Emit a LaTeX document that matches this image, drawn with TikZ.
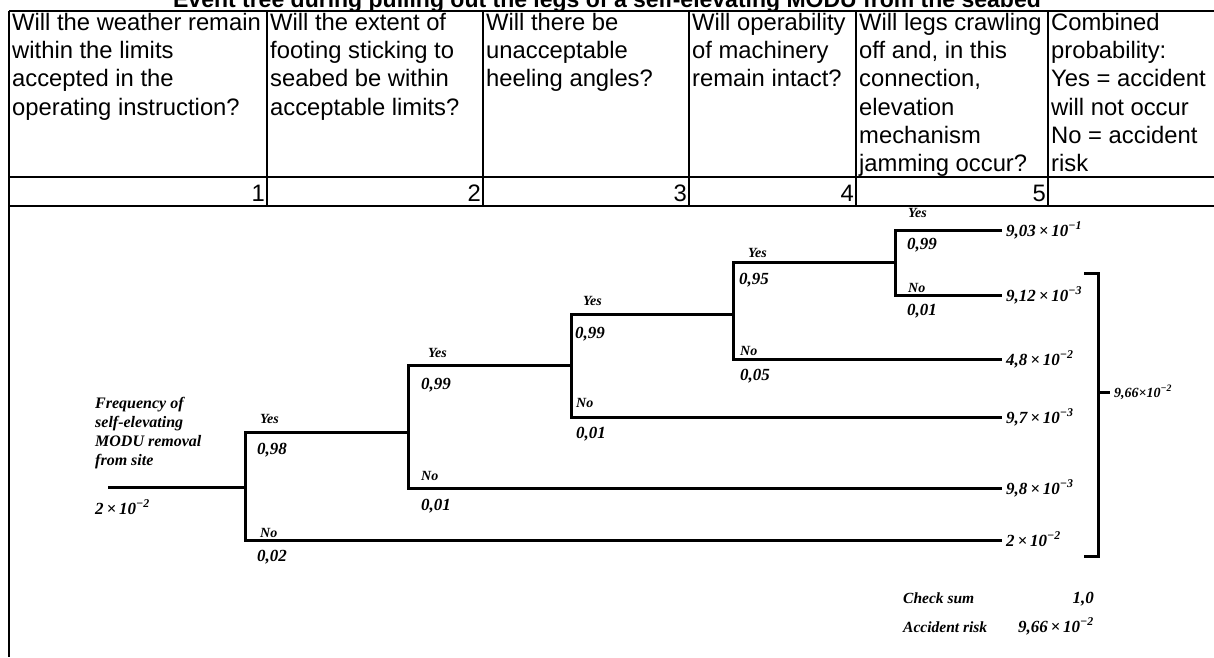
\documentclass[tikz,border=0pt]{standalone}
\usepackage{fontspec}
\setmainfont{Liberation Serif}
\newfontfamily\arialf{Liberation Sans}
\newcommand\hdfont{\arialf\fontsize{23.8}{28.2}\selectfont}
\newcommand\ynfont{\bfseries\itshape\fontsize{14}{16}\selectfont}
\newcommand\prfont{\bfseries\itshape\fontsize{17}{19}\selectfont}
\newcommand\frfont{\bfseries\itshape\fontsize{16}{19}\selectfont}
\newcommand\csfont{\bfseries\itshape\fontsize{15.5}{18}\selectfont}
\newcommand\smfont{\bfseries\itshape\fontsize{14}{16}\selectfont}
\newcommand\tenp[1]{\,×\,10\textsuperscript{−#1}}
\begin{document}
\begin{tikzpicture}[x=1pt,y=-1pt,
  tbl/.style={line width=2pt},
  tree/.style={line width=3pt,line join=miter},
  hd/.style={font=\hdfont,anchor=north west,align=left,inner sep=0pt},
  num/.style={font=\hdfont,anchor=base east,inner sep=0pt},
  yn/.style={font=\ynfont,anchor=base west,inner sep=0pt},
  pr/.style={font=\prfont,anchor=base west,inner sep=0pt},
  res/.style={font=\prfont,anchor=base west,inner sep=0pt},
  cs/.style={font=\csfont,anchor=base west,inner sep=0pt},
  csv/.style={font=\prfont,anchor=base east,inner sep=0pt}]
\useasboundingbox (0,0) rectangle (1214,657);
\fill[white] (0,0) rectangle (1214,657);
% title
\node[font=\arialf\bfseries\fontsize{23}{26}\selectfont,anchor=base,inner sep=0pt] (title) at (607,7)
  {Event tree during pulling out the legs of a self-elevating MODU from the seabed};
% table
\draw[tbl] (9,11) -- (1214,11);
\draw[tbl] (9,177) -- (1214,177);
\draw[tbl] (9,206) -- (1214,206);
\draw[tbl] (9,11) -- (9,657);
\foreach \x in {267,483,689,856,1048} \draw[tbl] (\x,11) -- (\x,206);
\node[hd] (h1) at (12,13) {Will the weather remain\\within the limits\\accepted in the\\operating instruction?};
\node[hd] (h2) at (270,13) {Will the extent of\\footing sticking to\\seabed be within\\acceptable limits?};
\node[hd] (h3) at (486,13) {Will there be\\unacceptable\\heeling angles?};
\node[hd] (h4) at (692,13) {Will operability\\of machinery\\remain intact?};
\node[hd] (h5) at (859,13) {Will legs crawling\\off and, in this\\connection,\\elevation\\mechanism\\jamming occur?};
\node[hd] (h6) at (1051,13) {Combined\\probability:\\Yes = accident\\will not occur\\No = accident\\risk};
\node[num] (n1) at (265,201) {1};
\node[num] (n2) at (481,201) {2};
\node[num] (n3) at (687,201) {3};
\node[num] (n4) at (854,201) {4};
\node[num] (n5) at (1046,201) {5};
% tree coordinates
\coordinate (s0) at (108,487);
\coordinate (b1) at (245,487);
\coordinate (v1t) at (245,432); \coordinate (v1b) at (245,540);
\coordinate (b2) at (408,432);
\coordinate (v2t) at (408,365); \coordinate (v2b) at (408,488);
\coordinate (b3) at (571,365);
\coordinate (v3t) at (571,314); \coordinate (v3b) at (571,417);
\coordinate (b4) at (733,314);
\coordinate (v4t) at (733,262); \coordinate (v4b) at (733,359);
\coordinate (b5) at (895,262);
\coordinate (v5t) at (895,230); \coordinate (v5b) at (895,295);
\coordinate (e1) at (1002,230);
\coordinate (e2) at (1002,295);
\coordinate (e3) at (1002,359);
\coordinate (e4) at (1002,417);
\coordinate (e5) at (1002,488);
\coordinate (e6) at (1002,540);
% tree lines
\draw[tree] (s0) -- (b1);
\draw[tree] (b2) -- (v1t) -- (v1b) -- (e6);
\draw[tree] (b3) -- (v2t) -- (v2b) -- (e5);
\draw[tree] (b4) -- (v3t) -- (v3b) -- (e4);
\draw[tree] (b5) -- (v4t) -- (v4b) -- (e3);
\draw[tree] (e1) -- (v5t) -- (v5b) -- (e2);
% branch labels
\node[yn] (y1) at (260,423) {Yes};  \node[pr] (p1) at (257,454) {0,98};
\node[yn] (no1) at (260,537) {No};  \node[pr] (q1) at (257,561) {0,02};
\node[yn] (y2) at (428,357) {Yes};  \node[pr] (p2) at (421,389) {0,99};
\node[yn] (no2) at (421,480) {No};  \node[pr] (q2) at (421,510) {0,01};
\node[yn] (y3) at (583,305) {Yes};  \node[pr] (p3) at (575,338) {0,99};
\node[yn] (no3) at (576,407) {No};  \node[pr] (q3) at (576,438) {0,01};
\node[yn] (y4) at (748,257) {Yes};  \node[pr] (p4) at (739,284) {0,95};
\node[yn] (no4) at (740,355) {No};  \node[pr] (q4) at (740,380) {0,05};
\node[yn] (y5) at (908,217) {Yes};  \node[pr] (p5) at (907,249) {0,99};
\node[yn] (no5) at (908,292) {No};  \node[pr] (q5) at (907,315) {0,01};
% start labels
\node[font=\frfont,anchor=north west,align=left,inner sep=0pt] (freq) at (95,397)
  {Frequency of\\self-elevating\\MODU removal\\from site};
\node[pr] (f0) at (95,514) {2\tenp{2}};
% results
\node[res] (r1) at (1006,236) {9,03\tenp{1}};
\node[res] (r2) at (1006,301) {9,12\tenp{3}};
\node[res] (r3) at (1006,365) {4,8\tenp{2}};
\node[res] (r4) at (1006,423) {9,7\tenp{3}};
\node[res] (r5) at (1006,494) {9,8\tenp{3}};
\node[res] (r6) at (1006,546) {2\tenp{2}};
% bracket
\coordinate (k1) at (1084,273); \coordinate (k2) at (1098,273);
\coordinate (k3) at (1098,556); \coordinate (k4) at (1084,556);
\coordinate (km) at (1098,392); \coordinate (kt) at (1110,392);
\draw[tree] (k1) -- (k2) -- (k3) -- (k4);
\draw[tree] (km) -- (kt);
\node[font=\smfont,anchor=base west,inner sep=0pt] (tot) at (1114,397) {9,66×10\textsuperscript{−2}};
% check sum
\node[cs] (cs) at (903,603) {Check sum};
\node[csv] (csv) at (1094,603) {1,0};
\node[cs] (ar) at (903,632) {Accident risk};
\node[csv] (arv) at (1094,632) {9,66\tenp{2}};
\end{tikzpicture}
\end{document}
